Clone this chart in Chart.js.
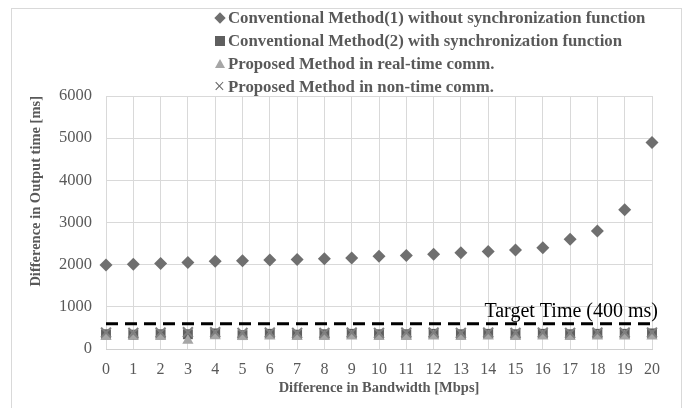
<!DOCTYPE html>
<html lang="en">
<head>
    <meta charset="UTF-8">
    <title>Difference in Output time vs Bandwidth</title>
    <style>
        body {
            margin: 0;
            background: #fff;
            font-family: "Liberation Serif", serif;
        }
        #wrap {
            position: relative;
            width: 687px;
            height: 408px;
            overflow: hidden;
        }
        #frame {
            position: absolute;
            left: 11px;
            top: 8px;
            width: 669px;
            height: 430px;
            border: 1px solid #d9d9d9;
            pointer-events: none;
        }
        #legend {
            position: absolute;
            left: 211px;
            top: 6px;
            font-weight: bold;
            font-size: 16.8px;
            line-height: 23px;
            color: #595959;
            white-space: nowrap;
        }
        .row {
            display: flex;
            align-items: center;
            height: 23px;
        }
        .mk {
            width: 17px;
            display: flex;
            justify-content: center;
            align-items: center;
        }
        canvas {
            position: absolute;
            left: 0;
            top: 0;
        }
    </style>
</head>
<body>
<div id="wrap">
    <canvas id="chart" width="687" height="408"></canvas>
    <div id="frame"></div>
    <div id="legend"></div>
</div>
<script src="https://cdn.jsdelivr.net/npm/chart.js"></script>
<script>
    // bandwidth difference [Mbps]
    const bandwidth = [0, 1, 2, 3, 4, 5, 6, 7, 8, 9, 10, 11, 12, 13, 14, 15, 16, 17, 18, 19, 20];

    // output time difference [ms]
    const method1 = [1990, 2010, 2030, 2050, 2080, 2090, 2110, 2120, 2140, 2160, 2200, 2220, 2250, 2280, 2310, 2350, 2400, 2600, 2800, 3300, 4900];
    const method2 = [350, 340, 350, 350, 370, 330, 360, 340, 350, 360, 350, 350, 360, 350, 360, 350, 360, 350, 360, 360, 370];
    const realTime = [290, 300, 290, 200, 310, 290, 300, 290, 290, 300, 290, 290, 300, 290, 300, 290, 300, 290, 300, 300, 300];
    const nonTime = [390, 380, 390, 400, 400, 380, 390, 380, 380, 390, 380, 390, 390, 380, 390, 380, 390, 380, 390, 390, 390];

    const targetTime = 600;
    const targetLabel = "Target Time (400 ms)";

    const seriesNames = [
        "Conventional Method(1) without synchronization function",
        "Conventional Method(2) with synchronization function",
        "Proposed Method in real-time comm.",
        "Proposed Method in non-time comm."
    ];
    const yTicks = [0, 1000, 2000, 3000, 4000, 5000, 6000];

    const grey = "#595959";
    const gridColor = "#d9d9d9";

    function pts(values) {
        return bandwidth.map((b, i) => ({ x: b, y: values[i] }));
    }

    // html legend, one entry per line like the original
    const markers = [
        '<div style="width:8px;height:8px;background:#6f6f6f;transform:rotate(45deg)"></div>',
        '<div style="width:10px;height:10px;background:#5f5f5f"></div>',
        '<div style="width:0;height:0;border-left:5px solid transparent;border-right:5px solid transparent;border-bottom:9px solid #a6a6a6"></div>',
        '<span style="font-weight:normal;font-size:20px;color:#666">&times;</span>'
    ];
    const legendEl = document.getElementById("legend");
    seriesNames.forEach((name, i) => {
        const row = document.createElement("div");
        row.className = "row";
        row.innerHTML = '<span class="mk">' + markers[i] + '</span>';
        const label = document.createElement("span");
        label.textContent = name;
        row.appendChild(label);
        legendEl.appendChild(row);
    });

    Chart.defaults.font.family = '"Liberation Serif", serif';
    Chart.defaults.color = grey;

    const targetText = {
        id: "targetText",
        afterDatasetsDraw(chart) {
            const { ctx, scales } = chart;
            ctx.save();
            ctx.font = '20px "Liberation Serif", serif';
            ctx.fillStyle = "#000";
            ctx.textAlign = "right";
            ctx.textBaseline = "alphabetic";
            ctx.fillText(targetLabel, scales.x.getPixelForValue(20) + 6, scales.y.getPixelForValue(targetTime) - 7);
            ctx.restore();
        }
    };

    const ctx = document.getElementById("chart").getContext("2d");
    new Chart(ctx, {
        type: "scatter",
        data: {
            datasets: [
                {
                    label: seriesNames[0],
                    data: pts(method1),
                    pointStyle: "rectRot",
                    pointRadius: 6.5,
                    backgroundColor: "#6f6f6f",
                    borderWidth: 0,
                    order: 1,
                    clip: false
                },
                {
                    label: seriesNames[1],
                    data: pts(method2),
                    pointStyle: "rect",
                    pointRadius: 7,
                    backgroundColor: "#5f5f5f",
                    borderWidth: 0,
                    order: 3,
                    clip: false
                },
                {
                    label: seriesNames[2],
                    data: pts(realTime),
                    pointStyle: "triangle",
                    pointRadius: 6.5,
                    backgroundColor: "#a6a6a6",
                    borderWidth: 0,
                    order: 2,
                    clip: false
                },
                {
                    label: seriesNames[3],
                    data: pts(nonTime),
                    pointStyle: "crossRot",
                    pointRadius: 7,
                    borderColor: "#7f7f7f",
                    borderWidth: 2,
                    order: 0,
                    clip: false
                },
                {
                    label: targetLabel,
                    data: [{ x: 0, y: targetTime }, { x: 20, y: targetTime }],
                    showLine: true,
                    borderColor: "#000",
                    borderWidth: 3,
                    borderDash: [12, 7],
                    pointRadius: 0,
                    order: 4,
                    clip: false
                }
            ]
        },
        plugins: [targetText],
        options: {
            responsive: false,
            animation: false,
            devicePixelRatio: 1,
            layout: { padding: { top: 96, right: 35, left: 0, bottom: 0 } },
            plugins: {
                legend: { display: false },
                tooltip: { enabled: false }
            },
            scales: {
                x: {
                    type: "linear",
                    min: 0,
                    max: 20,
                    afterFit: (scale) => { scale.height = 59; },
                    ticks: {
                        stepSize: 1,
                        padding: 11,
                        color: grey,
                        font: { size: 16 }
                    },
                    grid: { color: gridColor, drawTicks: false },
                    border: { color: "#d0d0d0" },
                    title: {
                        display: true,
                        text: "Difference in Bandwidth [Mbps]",
                        color: grey,
                        font: { size: 14.5, weight: "bold" },
                        padding: { top: 0, bottom: 11 }
                    }
                },
                y: {
                    min: 0,
                    max: 6000,
                    afterFit: (scale) => { scale.width = 106; },
                    afterBuildTicks: (scale) => { scale.ticks = yTicks.map(v => ({ value: v })); },
                    ticks: {
                        padding: 14,
                        color: grey,
                        font: { size: 16.5 },
                        callback: (v) => String(v)
                    },
                    grid: { color: gridColor, drawTicks: false },
                    border: { display: false },
                    title: {
                        display: true,
                        text: "Difference in Output time [ms]",
                        align: "end",
                        color: grey,
                        font: { size: 14.5, weight: "bold" },
                        padding: { top: 28, bottom: 0 }
                    }
                }
            }
        }
    });
</script>
</body>
</html>
